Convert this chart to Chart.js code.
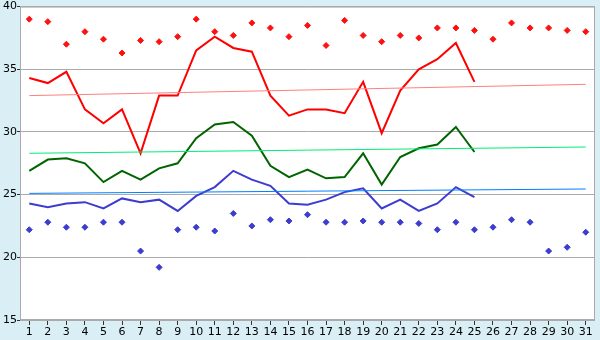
<!DOCTYPE html>
<html>
<head>
<meta charset="utf-8">
<script src="https://cdn.jsdelivr.net/npm/chart.js@4/dist/chart.umd.min.js"></script>
<style>
  html, body { margin: 0; padding: 0; background: #d9eef5; }
  #wrap { width: 600px; height: 340px; }
</style>
</head>
<body>
<div id="wrap"><canvas id="chart" width="600" height="340"></canvas></div>
<script>
const days = ['1','2','3','4','5','6','7','8','9','10','11','12','13','14','15','16','17','18','19','20','21','22','23','24','25','26','27','28','29','30','31'];

// daily observed values (days 1-25)
const maxTemp = [34.3, 33.9, 34.8, 31.8, 30.7, 31.8, 28.3, 32.9, 32.9, 36.5, 37.6, 36.7, 36.4, 32.9, 31.3, 31.8, 31.8, 31.5, 34.0, 29.9, 33.3, 35.0, 35.8, 37.1, 34.0];
const meanTemp = [26.9, 27.8, 27.9, 27.5, 26.0, 26.9, 26.2, 27.1, 27.5, 29.5, 30.6, 30.8, 29.7, 27.3, 26.4, 27.0, 26.3, 26.4, 28.3, 25.8, 28.0, 28.7, 29.0, 30.4, 28.4];
const minTemp = [24.3, 24.0, 24.3, 24.4, 23.9, 24.7, 24.4, 24.6, 23.7, 24.9, 25.6, 26.9, 26.2, 25.7, 24.3, 24.2, 24.6, 25.2, 25.5, 23.9, 24.6, 23.7, 24.3, 25.6, 24.8];

// record extremes for each day of the month
const recordHigh = [39.0, 38.8, 37.0, 38.0, 37.4, 36.3, 37.3, 37.2, 37.6, 39.0, 38.0, 37.7, 38.7, 38.3, 37.6, 38.5, 36.9, 38.9, 37.7, 37.2, 37.7, 37.5, 38.3, 38.3, 38.1, 37.4, 38.7, 38.3, 38.3, 38.1, 38.0];
const recordLow = [22.2, 22.8, 22.4, 22.4, 22.8, 22.8, 20.5, 19.2, 22.2, 22.4, 22.1, 23.5, 22.5, 23.0, 22.9, 23.4, 22.8, 22.8, 22.9, 22.8, 22.8, 22.7, 22.2, 22.8, 22.2, 22.4, 23.0, 22.8, 20.5, 20.8, 22.0];

// normals at the first and last day
const normalDays = ['1', '31'];
const normalHigh = [32.9, 33.8];
const normalMean = [28.3, 28.8];
const normalLow = [25.1, 25.45];

const yTicks = [15, 20, 25, 30, 35, 40];

function pairs(xs, ys) {
    return xs.map((x, i) => ({ x: x, y: ys[i] }));
}

const plotFrame = {
    id: 'plotFrame',
    beforeDraw(chart) {
        const { ctx, chartArea: a } = chart;
        ctx.save();
        ctx.fillStyle = '#ffffff';
        ctx.fillRect(a.left, a.top, a.right - a.left, a.bottom - a.top);
        ctx.restore();
    },
    afterDatasetsDraw(chart) {
        const { ctx, chartArea: a } = chart;
        ctx.save();
        ctx.strokeStyle = '#aaaaaa';
        ctx.lineWidth = 1;
        ctx.strokeRect(a.left + 0.5, a.top + 0.5, a.right - a.left - 1, a.bottom - a.top - 1);
        ctx.restore();
    }
};

function lineSet(data, color, width) {
    return {
        type: 'line',
        data: data,
        borderColor: color,
        backgroundColor: color,
        borderWidth: width,
        pointRadius: 0,
        tension: 0,
        fill: false
    };
}

function dotSet(data, color) {
    return {
        type: 'line',
        data: data,
        showLine: false,
        borderColor: color,
        backgroundColor: color,
        pointStyle: 'rectRot',
        pointRadius: 3,
        pointBorderWidth: 1
    };
}

const ctx = document.getElementById('chart').getContext('2d');
new Chart(ctx, {
    type: 'line',
    data: {
        labels: days,
        datasets: [
            lineSet(pairs(normalDays, normalHigh), '#ff8080', 1),
            lineSet(pairs(normalDays, normalMean), '#00ee77', 1),
            lineSet(pairs(normalDays, normalLow), '#0080ff', 1),
            lineSet(maxTemp, '#ff0000', 2),
            lineSet(meanTemp, '#006400', 2),
            lineSet(minTemp, '#3c3cd0', 2),
            dotSet(recordHigh, '#ff1010'),
            dotSet(recordLow, '#3c3cd0')
        ]
    },
    options: {
        responsive: false,
        animation: false,
        devicePixelRatio: 1,
        layout: { padding: { top: 5, right: 5, left: 0, bottom: 0 } },
        plugins: {
            legend: { display: false },
            tooltip: { enabled: false }
        },
        scales: {
            x: {
                type: 'category',
                offset: true,
                grid: {
                    display: true,
                    drawOnChartArea: false,
                    drawTicks: true,
                    tickLength: 5,
                    color: '#333333',
                    offset: false
                },
                border: { display: false },
                ticks: {
                    color: '#000000',
                    font: { family: 'DejaVu Sans', size: 11 },
                    padding: 1,
                    maxRotation: 0,
                    autoSkip: false
                },
                afterFit(scale) { scale.height = 20; }
            },
            y: {
                min: 15,
                max: 40,
                afterBuildTicks(scale) {
                    scale.ticks = yTicks.map(v => ({ value: v }));
                },
                grid: {
                    color: '#aaaaaa',
                    tickColor: '#333333',
                    drawTicks: true,
                    tickLength: 3
                },
                border: { display: false },
                ticks: {
                    color: '#000000',
                    font: { family: 'DejaVu Sans', size: 11 },
                    padding: 0
                },
                afterFit(scale) { scale.width = 20; }
            }
        }
    },
    plugins: [plotFrame]
});
</script>
</body>
</html>
